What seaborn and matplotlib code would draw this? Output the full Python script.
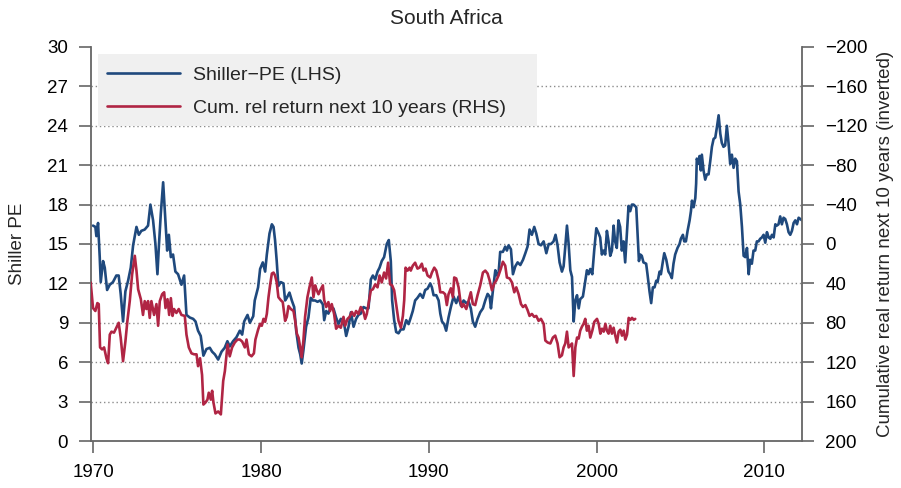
import matplotlib
matplotlib.use("Agg")
import matplotlib.pyplot as plt
from matplotlib.patches import Rectangle
import seaborn as sns

# Shiller PE (left axis)
pe_dates = [
    1969.98, 1970.12, 1970.18, 1970.28, 1970.38, 1970.44, 1970.58, 1970.68, 1970.82, 1970.98,
    1971.17, 1971.37, 1971.51, 1971.63, 1971.77, 1971.91, 1972.07, 1972.23, 1972.37, 1972.57,
    1972.71, 1972.86, 1973.06, 1973.26, 1973.40, 1973.56, 1973.70, 1973.82, 1973.90, 1974.02,
    1974.16, 1974.26, 1974.40, 1974.50, 1974.62, 1974.75, 1974.89, 1975.05, 1975.25, 1975.41,
    1975.55, 1975.75, 1975.95, 1976.09, 1976.24, 1976.40, 1976.56, 1976.74, 1976.94, 1977.08,
    1977.24, 1977.44, 1977.64, 1977.83, 1977.99, 1978.13, 1978.33, 1978.53, 1978.73, 1978.87,
    1978.99, 1979.19, 1979.33, 1979.53, 1979.62, 1979.82,
    1979.94, 1980.10, 1980.24, 1980.34, 1980.50, 1980.64, 1980.74, 1980.83, 1980.93, 1981.03,
    1981.17, 1981.33, 1981.43, 1981.53, 1981.69, 1981.83, 1981.97, 1982.09, 1982.23, 1982.33,
    1982.42, 1982.52, 1982.68, 1982.82, 1982.96, 1983.08, 1983.22, 1983.36, 1983.52, 1983.68,
    1983.76, 1983.88, 1984.01, 1984.15, 1984.31, 1984.47, 1984.61, 1984.75, 1984.91, 1985.07,
    1985.21, 1985.35, 1985.51, 1985.66, 1985.80, 1985.94, 1986.10, 1986.26, 1986.40, 1986.54,
    1986.66, 1986.80, 1986.94, 1987.06, 1987.19, 1987.33, 1987.49, 1987.61, 1987.73, 1987.81,
    1987.93, 1988.05, 1988.19, 1988.33, 1988.49, 1988.65, 1988.79, 1988.92, 1989.04, 1989.18,
    1989.32, 1989.48, 1989.64, 1989.78, 1989.92,
    1990.08, 1990.18, 1990.28, 1990.44, 1990.58, 1990.68, 1990.78, 1990.91, 1991.03, 1991.17,
    1991.31, 1991.47, 1991.63, 1991.77, 1991.91, 1992.07, 1992.23, 1992.37, 1992.50, 1992.62,
    1992.76, 1992.90, 1993.06, 1993.22, 1993.36, 1993.50, 1993.62, 1993.70, 1993.82, 1993.96,
    1994.06, 1994.15, 1994.25, 1994.41, 1994.55, 1994.65, 1994.75, 1994.89, 1995.01, 1995.15,
    1995.29, 1995.45, 1995.61, 1995.75, 1995.88, 1996.00, 1996.14, 1996.28, 1996.40, 1996.54,
    1996.68, 1996.84, 1997.00, 1997.14, 1997.28, 1997.43, 1997.55, 1997.67, 1997.79, 1997.93,
    1998.03, 1998.13, 1998.23, 1998.33, 1998.43, 1998.53, 1998.63, 1998.73, 1998.83, 1998.93,
    1999.02, 1999.18, 1999.32, 1999.42, 1999.52, 1999.62, 1999.74, 1999.86, 1999.98, 2000.12,
    2000.21, 2000.31, 2000.41, 2000.51, 2000.61, 2000.71, 2000.81, 2000.91, 2001.01, 2001.10,
    2001.20, 2001.30, 2001.40, 2001.50, 2001.60, 2001.70, 2001.80, 2001.90, 2002.00, 2002.10,
    2002.20, 2002.36, 2002.44, 2002.52, 2002.60, 2002.69, 2002.79, 2002.95, 2003.03, 2003.15,
    2003.25, 2003.35, 2003.45, 2003.55, 2003.63, 2003.75, 2003.83, 2003.95, 2004.03, 2004.15,
    2004.28, 2004.38, 2004.48, 2004.58, 2004.68, 2004.82, 2004.94, 2005.02, 2005.14, 2005.22,
    2005.32, 2005.42, 2005.54, 2005.62, 2005.68, 2005.78, 2005.88, 2005.93, 2005.97, 2006.07,
    2006.13, 2006.21, 2006.27, 2006.37, 2006.47, 2006.57, 2006.67, 2006.77, 2006.87, 2006.97,
    2007.07, 2007.17, 2007.27, 2007.37, 2007.46, 2007.56, 2007.66, 2007.76, 2007.86, 2007.96,
    2008.06, 2008.16, 2008.26, 2008.36, 2008.46, 2008.56, 2008.66, 2008.76, 2008.86, 2008.96,
    2009.06, 2009.15, 2009.25, 2009.35, 2009.45, 2009.55, 2009.65, 2009.75, 2009.85, 2009.95,
    2010.05, 2010.15, 2010.25, 2010.35, 2010.45, 2010.55, 2010.65, 2010.74, 2010.84, 2010.94,
    2011.04, 2011.14, 2011.24, 2011.34, 2011.44, 2011.54, 2011.64, 2011.74, 2011.84, 2011.94,
    2012.04, 2012.14, 2012.24,
]
pe_values = [
    16.4, 16.3, 15.6, 16.6, 14.0, 12.1, 13.7, 13.2, 11.5, 11.9,
    12.1, 12.6, 12.6, 11.2, 9.1, 11.4, 12.2, 13.2, 14.9, 16.3,
    15.7, 16.0, 16.1, 16.4, 18.0, 16.8, 15.0, 12.7, 14.7, 17.3,
    19.7, 17.5, 14.5, 15.7, 14.0, 14.2, 12.9, 12.7, 11.9, 12.6,
    9.6, 9.4, 9.3, 9.1, 8.4, 8.0, 6.5, 7.0, 7.1, 6.8,
    6.6, 6.2, 6.8, 7.1, 7.6, 7.2, 7.6, 7.9, 8.4, 8.1,
    9.1, 9.6, 9.0, 9.5, 10.7, 11.7,
    13.1, 13.6, 12.9, 14.2, 15.8, 16.5, 16.3, 15.3, 13.7, 11.8,
    12.1, 12.0, 10.7, 10.9, 11.3, 10.7, 10.2, 8.4, 7.1, 6.6,
    5.9, 6.9, 8.7, 9.4, 10.9, 10.7, 10.7, 10.6, 10.7, 10.4,
    9.2, 9.9, 9.7, 10.2, 10.1, 9.4, 8.9, 9.3, 9.2, 8.0,
    8.7, 9.8, 8.7, 9.3, 9.6, 9.7, 10.2, 10.1, 10.1, 12.3,
    12.6, 12.3, 12.9, 13.2, 13.7, 14.0, 15.0, 15.3, 13.7, 10.7,
    9.2, 8.3, 8.2, 8.5, 8.5, 9.2, 8.9, 9.4, 9.9, 10.7,
    10.9, 11.2, 10.9, 11.5, 11.6,
    12.0, 11.7, 11.1, 11.1, 10.7, 9.7, 9.1, 8.9, 8.4, 9.4,
    10.2, 11.0, 10.5, 11.0, 10.3, 10.7, 10.5, 10.6, 10.1, 9.1,
    8.7, 9.3, 9.8, 10.1, 10.7, 11.2, 11.0, 10.1, 11.5, 13.0,
    12.6, 12.7, 14.4, 14.4, 14.8, 14.5, 14.9, 14.6, 12.7, 13.3,
    13.6, 13.4, 13.8, 14.3, 14.8, 16.1, 15.7, 16.3, 15.8, 15.0,
    14.9, 15.2, 14.3, 15.0, 15.0, 15.2, 15.7, 14.9, 13.6, 12.9,
    13.3, 14.8, 16.4, 15.0, 13.0, 12.5, 9.1, 10.7, 11.1, 10.1,
    10.8, 11.0, 12.2, 13.0, 12.7, 13.1, 12.7, 14.6, 16.2, 15.8,
    15.5, 14.2, 14.5, 14.2, 16.0, 15.2, 14.1, 14.5, 16.4, 15.2,
    14.7, 16.8, 16.3, 14.5, 15.2, 13.6, 15.7, 17.9, 17.5, 18.0,
    18.0, 17.8, 15.7, 13.7, 14.2, 14.1, 13.6, 13.5, 12.7, 11.4,
    10.5, 11.7, 11.7, 12.2, 12.1, 12.9, 12.7, 13.7, 14.3, 13.8,
    12.9, 12.7, 12.4, 13.5, 14.2, 14.7, 15.0, 15.4, 15.7, 15.2,
    15.2, 16.0, 16.8, 17.5, 18.3, 17.8, 18.5, 19.6, 21.5, 21.1,
    21.7, 20.6, 21.8, 20.6, 19.9, 20.3, 20.3, 21.3, 22.4, 23.0,
    23.1, 23.9, 24.8, 23.4, 22.7, 22.4, 22.5, 24.0, 22.7, 21.1,
    21.8, 20.8, 21.5, 21.3, 19.0, 18.0, 16.3, 14.1, 14.0, 14.7,
    12.7, 13.8, 13.5, 14.5, 14.5, 15.2, 15.2, 15.4, 15.5, 15.7,
    15.1, 15.9, 15.5, 15.4, 15.7, 15.5, 16.5, 16.4, 16.5, 17.1,
    16.5, 17.0, 16.9, 16.5, 15.9, 15.7, 16.0, 16.6, 16.8, 16.5,
    17.0, 16.9, 16.8,
]

# Cumulative real return over the next 10 years, % (right axis, inverted)
ret_dates = [
    1969.84, 1969.98, 1970.12, 1970.24, 1970.32, 1970.40, 1970.52, 1970.64, 1970.78, 1970.88,
    1970.98, 1971.08, 1971.23, 1971.37, 1971.51, 1971.63, 1971.77, 1971.91, 1972.03, 1972.17,
    1972.31, 1972.47, 1972.57, 1972.67, 1972.83, 1972.96, 1973.06, 1973.16, 1973.26, 1973.36,
    1973.46, 1973.62, 1973.76, 1973.86, 1973.96, 1974.10, 1974.22, 1974.30, 1974.42, 1974.52,
    1974.62, 1974.72, 1974.81, 1974.95, 1975.09, 1975.25, 1975.45, 1975.55, 1975.69, 1975.85,
    1976.01, 1976.15, 1976.24, 1976.36, 1976.48, 1976.56, 1976.68, 1976.80, 1976.88, 1977.00,
    1977.08, 1977.16, 1977.28, 1977.44, 1977.60, 1977.74, 1977.84, 1978.00, 1978.13, 1978.27,
    1978.43, 1978.59, 1978.73, 1978.87, 1979.03, 1979.13, 1979.27, 1979.43, 1979.57, 1979.66,
    1979.82,
    1979.94, 1980.04, 1980.14, 1980.24, 1980.34, 1980.44, 1980.54, 1980.64, 1980.74, 1980.83,
    1980.93, 1981.03, 1981.17, 1981.29, 1981.43, 1981.53, 1981.63, 1981.77, 1981.93, 1982.03,
    1982.13, 1982.23, 1982.33, 1982.42, 1982.52, 1982.62, 1982.76, 1982.88, 1983.02, 1983.12,
    1983.22, 1983.32, 1983.42, 1983.52, 1983.68, 1983.76, 1983.88, 1984.01, 1984.11, 1984.21,
    1984.35, 1984.47, 1984.61, 1984.75, 1984.91, 1985.01, 1985.15, 1985.27, 1985.41, 1985.55,
    1985.66, 1985.80, 1985.94, 1986.10, 1986.20, 1986.30, 1986.40, 1986.54, 1986.66, 1986.80,
    1986.94, 1987.06, 1987.19, 1987.33, 1987.45, 1987.57, 1987.69, 1987.81, 1987.93, 1988.05,
    1988.19, 1988.33, 1988.45, 1988.53, 1988.61, 1988.73, 1988.85, 1988.92, 1989.04, 1989.18,
    1989.32, 1989.44, 1989.58, 1989.68, 1989.80, 1989.92,
    1990.08, 1990.18, 1990.32, 1990.44, 1990.58, 1990.68, 1990.84, 1990.97, 1991.07, 1991.17,
    1991.31, 1991.43, 1991.51, 1991.63, 1991.77, 1991.87, 1991.97, 1992.07, 1992.23, 1992.37,
    1992.50, 1992.62, 1992.76, 1992.90, 1993.06, 1993.22, 1993.36, 1993.50, 1993.62, 1993.76,
    1993.90, 1994.02, 1994.15, 1994.29, 1994.41, 1994.55, 1994.65, 1994.81, 1994.95, 1995.09,
    1995.21, 1995.35, 1995.49, 1995.61, 1995.75, 1995.88, 1996.00, 1996.14, 1996.28, 1996.40,
    1996.54, 1996.68, 1996.84, 1996.94, 1997.08, 1997.24, 1997.39, 1997.53, 1997.67, 1997.79,
    1997.93, 1998.03, 1998.13, 1998.23, 1998.33, 1998.43, 1998.53, 1998.63, 1998.73, 1998.83,
    1998.93, 1999.02, 1999.12, 1999.22, 1999.32, 1999.42, 1999.52, 1999.62, 1999.74, 1999.86,
    2000.02, 2000.12, 2000.22, 2000.32, 2000.42, 2000.52, 2000.61, 2000.71, 2000.81, 2000.91,
    2001.01, 2001.11, 2001.21, 2001.31, 2001.41, 2001.51, 2001.61, 2001.71, 2001.81, 2001.91,
    2002.01, 2002.11, 2002.21, 2002.30,
]
ret_values = [
    39, 65, 68, 60, 61, 105, 107, 105, 116, 121,
    92, 89, 90, 85, 80, 95, 119, 99, 78, 58,
    31, 12, 27, 46, 56, 72, 58, 66, 58, 75,
    58, 72, 61, 83, 58, 51, 49, 65, 56, 72,
    55, 73, 66, 70, 66, 72, 73, 92, 105, 111,
    112, 112, 124, 116, 133, 163, 161, 158, 151, 158,
    149, 161, 172, 170, 173, 139, 129, 102, 114, 105,
    100, 97, 97, 99, 105, 97, 112, 114, 111, 97,
    87,
    81, 83, 76, 79, 71, 54, 41, 30, 29, 32,
    39, 54, 57, 59, 78, 74, 63, 66, 68, 78,
    91, 95, 105, 115, 98, 74, 54, 44, 34, 54,
    42, 47, 51, 47, 42, 57, 64, 59, 68, 61,
    71, 86, 83, 85, 74, 83, 76, 74, 69, 73,
    68, 71, 64, 69, 76, 71, 61, 47, 46, 41,
    44, 32, 39, 29, 35, 19, 41, 42, 47, 61,
    78, 85, 73, 57, 24, 27, 24, 27, 22, 19,
    25, 24, 20, 27, 25, 32,
    34, 29, 24, 27, 37, 49, 49, 51, 62, 51,
    45, 54, 34, 35, 44, 57, 64, 61, 66, 57,
    49, 61, 62, 52, 42, 29, 27, 30, 37, 47,
    40, 37, 32, 25, 18, 22, 34, 35, 39, 49,
    44, 51, 61, 64, 62, 67, 73, 71, 74, 73,
    78, 76, 81, 98, 100, 101, 95, 93, 101, 115,
    113, 105, 101, 89, 105, 103, 101, 134, 105, 95,
    96, 88, 84, 81, 76, 88, 83, 95, 88, 79,
    76, 81, 91, 86, 89, 81, 88, 91, 83, 91,
    85, 93, 100, 89, 87, 93, 88, 97, 92, 75,
    77, 75, 77, 76,
]

year_ticks = [1970, 1980, 1990, 2000, 2010]
pe_ticks = list(range(0, 31, 3))
ret_ticks = list(range(-200, 201, 40))

blue = "#1F497D"
red = "#B02544"
axis_grey = "#666666"

sns.set_style("ticks")
plt.rcParams['font.family'] = ['Liberation Sans', 'DejaVu Sans']
plt.rcParams['axes.unicode_minus'] = True

fig = plt.figure(figsize=(9.01, 4.88), dpi=100)
ax = fig.add_axes([0.101, 0.0963, 0.7895, 0.8074])
ax2 = ax.twinx()

# dotted horizontal grid
for y in pe_ticks[1:-1]:
    ax.axhline(y, color="#8c8c8c", lw=1.0, ls=(0, (1, 2)), zorder=0.5)

sns.lineplot(x=pe_dates, y=pe_values, ax=ax, color=blue, lw=1.9,
             label="Shiller\u2212PE (LHS)")
sns.lineplot(x=ret_dates, y=ret_values, ax=ax2, color=red, lw=1.9,
             label="Cum. rel return next 10 years (RHS)")

ax.set_xlim(1969.86, 2012.26)
ax.set_ylim(0, 30)
ax2.set_ylim(200, -200)
ax.set_xticks(year_ticks)
ax.set_yticks(pe_ticks)
ax2.set_yticks(ret_ticks)
ax.set_xlabel("")
ax.set_ylabel("")
ax2.set_ylabel("")

for s in ["top", "right"]:
    ax.spines[s].set_visible(False)
for s in ["top", "left", "bottom"]:
    ax2.spines[s].set_visible(False)
for a, s in [(ax, "left"), (ax, "bottom"), (ax2, "right")]:
    a.spines[s].set_color(axis_grey)
    a.spines[s].set_linewidth(1.3)

ax.tick_params(axis="both", direction="out", length=8.5, width=1.2,
               color=axis_grey, pad=8, labelsize=13.5, labelcolor="black")
ax2.tick_params(axis="y", direction="out", length=8.5, width=1.2,
                color=axis_grey, pad=8, labelsize=13.5, labelcolor="black")

# legend with grey background box
handles, labels = [], []
for a in (ax, ax2):
    h, l = a.get_legend_handles_labels()
    handles += h
    labels += l
    if a.get_legend() is not None:
        a.get_legend().remove()

ax2.add_patch(Rectangle((0.0098, 0.7995), 0.6175, 0.1825, transform=ax2.transAxes,
                        facecolor="#f0f0f0", edgecolor="none", zorder=3))
ax2.legend(handles, labels, loc="upper left", bbox_to_anchor=(0.0225, 0.952),
           frameon=False, handlelength=3.75, handletextpad=0.65, labelspacing=0.8,
           borderpad=0, borderaxespad=0, fontsize=14)

fig.text(446 / 901, 1 - 18 / 488, "South Africa", ha="center", va="center", fontsize=15)
fig.text(18 / 901, 0.5, "Shiller PE", rotation=90, ha="center", va="center", fontsize=13.5)
fig.text(886 / 901, 0.5, "Cumulative real return next 10 years (inverted)",
         rotation=90, ha="center", va="center", fontsize=13.5)

fig.savefig("out.png", dpi=100)
